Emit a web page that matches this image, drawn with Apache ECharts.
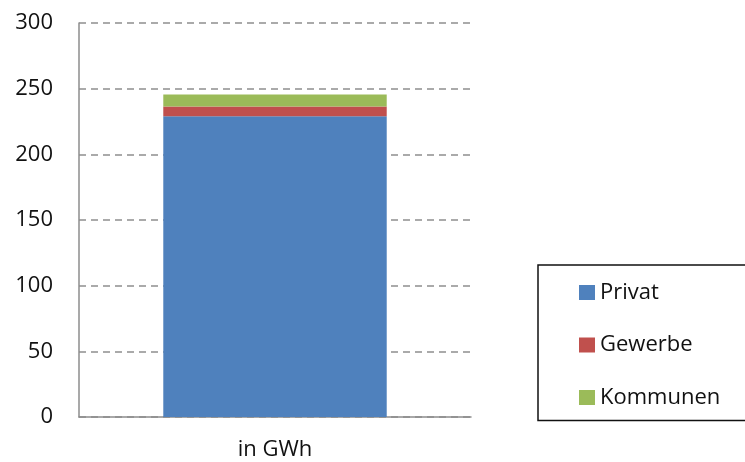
<!DOCTYPE html>
<html>
<head>
<meta charset="utf-8">
<script src="https://cdn.jsdelivr.net/npm/echarts@6/dist/echarts.min.js"></script>
<style>
html,body{margin:0;padding:0;background:#fff;}
#chart{width:745px;height:462px;}
</style>
</head>
<body>
<div id="chart"></div>
<script>
const categories = ['in GWh'];
const seriesNames = ['Privat', 'Gewerbe', 'Kommunen'];
const privat = [229];
const gewerbe = [7.5];
const kommunen = [9];
const yTicks = [0, 50, 100, 150, 200, 250, 300];

const colors = ['#4F81BD', '#C0504D', '#9BBB59'];
const font = '"Open Sans", "DejaVu Sans", sans-serif';
const values = [privat, gewerbe, kommunen];

const chart = echarts.init(document.getElementById('chart'), null, {renderer: 'canvas'});
chart.setOption({
  animation: false,
  backgroundColor: '#ffffff',
  color: colors,
  grid: {left: 79, right: 274, top: 23, bottom: 45, containLabel: false},
  legend: {
    orient: 'vertical',
    left: 538,
    top: 265,
    padding: [16.5, 40, 12, 41],
    itemGap: 30.5,
    itemWidth: 16,
    itemHeight: 15,
    icon: 'rect',
    borderColor: '#111',
    borderWidth: 1.5,
    textStyle: {fontFamily: font, fontSize: 22, color: '#111', lineHeight: 22, padding: [0, 0, 0, 0]},
    data: seriesNames
  },
  xAxis: {
    type: 'category',
    data: categories,
    axisLine: {lineStyle: {color: '#8c8c8c', width: 1.5}},
    axisTick: {show: false},
    axisLabel: {fontFamily: font, fontSize: 22, color: '#111', margin: 22}
  },
  yAxis: {
    type: 'value',
    min: yTicks[0],
    max: yTicks[yTicks.length - 1],
    interval: 50,
    axisLine: {show: true, lineStyle: {color: '#8c8c8c', width: 1.5}},
    axisTick: {show: false},
    axisLabel: {fontFamily: font, fontSize: 22, color: '#111', margin: 26},
    splitLine: {lineStyle: {color: '#8f8f8f', width: 1.5, type: [7, 5]}}
  },
  series: seriesNames.map((name, i) => ({
    name: name,
    type: 'bar',
    stack: 'total',
    barWidth: '57%',
    data: values[i],
    itemStyle: {color: colors[i]}
  }))
});
</script>
</body>
</html>
